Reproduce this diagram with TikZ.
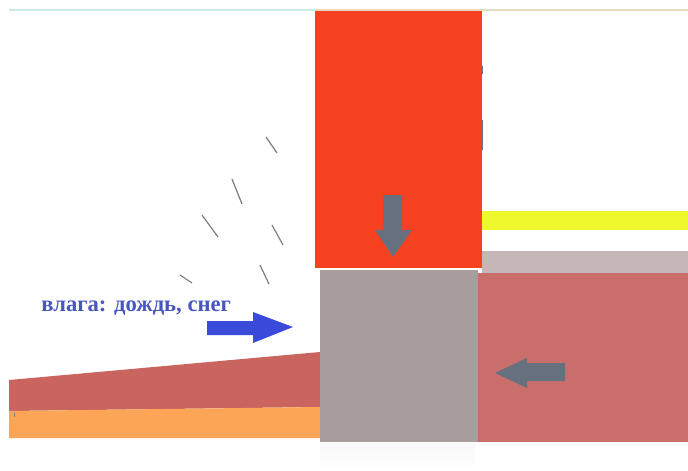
\documentclass[tikz,border=0pt]{standalone}
\usepackage{fontspec}
\setmainfont{Liberation Serif}
\definecolor{wallred}{HTML}{F5411F}
\definecolor{blockgray}{HTML}{A89C9C}
\definecolor{floorrose}{HTML}{C96E6A}
\definecolor{layergray}{HTML}{C5B7B7}
\definecolor{layeryellow}{HTML}{EEF82C}
\definecolor{slabbrick}{HTML}{C9645F}
\definecolor{slaborange}{HTML}{FDA556}
\definecolor{arrowblue}{HTML}{3A4BDB}
\definecolor{textblue}{HTML}{4757BE}
\definecolor{arrowgray}{HTML}{66707E}
\definecolor{linetan}{HTML}{E8D8C0}
\definecolor{linecyan}{HTML}{CFE8EC}
\begin{document}
\begin{tikzpicture}[x=0.02cm, y=-0.02cm, every node/.style={font=\bfseries\fontsize{12.9}{14}\selectfont}]

  \useasboundingbox (0,0) rectangle (688,470);

  % 1. верхняя линия и слабая тень
  \draw[line width=0.6pt, linecyan] (9,10) -- (315,10);
  \draw[line width=0.6pt, linetan] (315,10) -- (688,10);
  \shade[top color=black!3, bottom color=white] (320,443) rectangle (475,470);

  % 2. слои справа
  \fill[layeryellow] (482,211) rectangle (688,230);
  \fill[layergray] (482,251) rectangle (688,273);
  \fill[floorrose] (478,273) rectangle (688,442);

  % 3. слои слева
  \fill[slabbrick] (9,380) -- (320,352) -- (320,407) -- (9,411) -- cycle;
  \fill[slaborange] (9,411) -- (320,407) -- (320,438) -- (9,438) -- cycle;
  \draw[line width=0.4pt, gray] (14,413) -- (14,417);

  % 4. блоки
  \fill[blockgray] (320,270) rectangle (478,442);
  \fill[wallred] (315,11) rectangle (482,268);
  \draw[line width=0.6pt, arrowgray] (482.5,120) -- (482.5,150);
  \draw[line width=0.6pt, arrowgray] (482.5,66) -- (482.5,74);

  % 5. капли
  \foreach \xa/\ya/\xb/\yb in {266/137/277/153, 232/179/242/204, 202/215/218/237,
                               272/225/283/245, 260/265/269/284, 180/275/192/283}
    \draw[line width=0.7pt, gray] (\xa,\ya) -- (\xb,\yb);

  % 6. стрелки
  \fill[arrowblue] (207,321) -- (253,321) -- (253,312) -- (293,327)
    -- (253,343) -- (253,335) -- (207,335) -- cycle;
  \fill[arrowgray] (383,195) -- (402,195) -- (402,230) -- (412,230) -- (393,257)
    -- (375,230) -- (383,230) -- cycle;
  \fill[arrowgray] (565,363) -- (527,363) -- (527,358) -- (495,373)
    -- (527,388) -- (527,381) -- (565,381) -- cycle;

  % 7. подпись
  \node[text=textblue, anchor=base west, inner sep=0pt] (moisture) at (41,311) {влага: дождь, снег};

\end{tikzpicture}
\end{document}
